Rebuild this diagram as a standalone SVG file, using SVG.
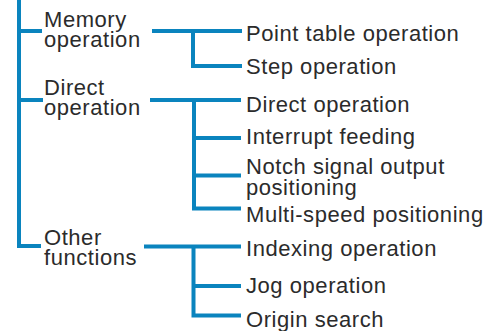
<svg xmlns="http://www.w3.org/2000/svg" width="490" height="331" viewBox="0 0 490 331">
  <style>
    .ln { fill: none; stroke: #0a84be; stroke-width: 4; stroke-linejoin: miter; stroke-linecap: butt; }
    text { font-family: "Liberation Sans", Arial, sans-serif; font-size: 22px; letter-spacing: 0.55px; fill: #2b2b2b; }
  </style>
  <rect width="490" height="331" fill="#ffffff"/>

  <!-- connectors -->
  <g id="connectors">
    <!-- main trunk -->
    <path class="ln" d="M19,0 V246 H41 M19,31 H42 M19,100 H43"/>
    <!-- memory operation branches -->
    <path class="ln" d="M152,31 H242 M193,31 V66 H242"/>
    <!-- direct operation branches -->
    <path class="ln" d="M150,100 H241 M194,100 V208.5 H241 M194,138 H241 M194,175.5 H241"/>
    <!-- other functions branches -->
    <path class="ln" d="M144,246.5 H241 M193.5,246.5 V315.5 H241 M193.5,286 H241"/>
  </g>

  <!-- categories -->
  <g id="memory-operation">
    <text x="44" y="27">Memory</text>
    <text x="44" y="47">operation</text>
  </g>
  <g id="direct-operation-group">
    <text x="44" y="95">Direct</text>
    <text x="44" y="115">operation</text>
  </g>
  <g id="other-functions">
    <text x="44" y="245">Other</text>
    <text x="44" y="265">functions</text>
  </g>

  <!-- functions -->
  <g id="point-table-operation"><text x="246" y="41">Point table operation</text></g>
  <g id="step-operation"><text x="246" y="74">Step operation</text></g>
  <g id="direct-operation"><text x="246" y="112">Direct operation</text></g>
  <g id="interrupt-feeding"><text x="246" y="144">Interrupt feeding</text></g>
  <g id="notch-signal-output-positioning">
    <text x="246" y="174">Notch signal output</text>
    <text x="246" y="195">positioning</text>
  </g>
  <g id="multi-speed-positioning"><text x="246" y="222">Multi-speed positioning</text></g>
  <g id="indexing-operation"><text x="246" y="256">Indexing operation</text></g>
  <g id="jog-operation"><text x="246" y="293">Jog operation</text></g>
  <g id="origin-search"><text x="246" y="327">Origin search</text></g>
</svg>
